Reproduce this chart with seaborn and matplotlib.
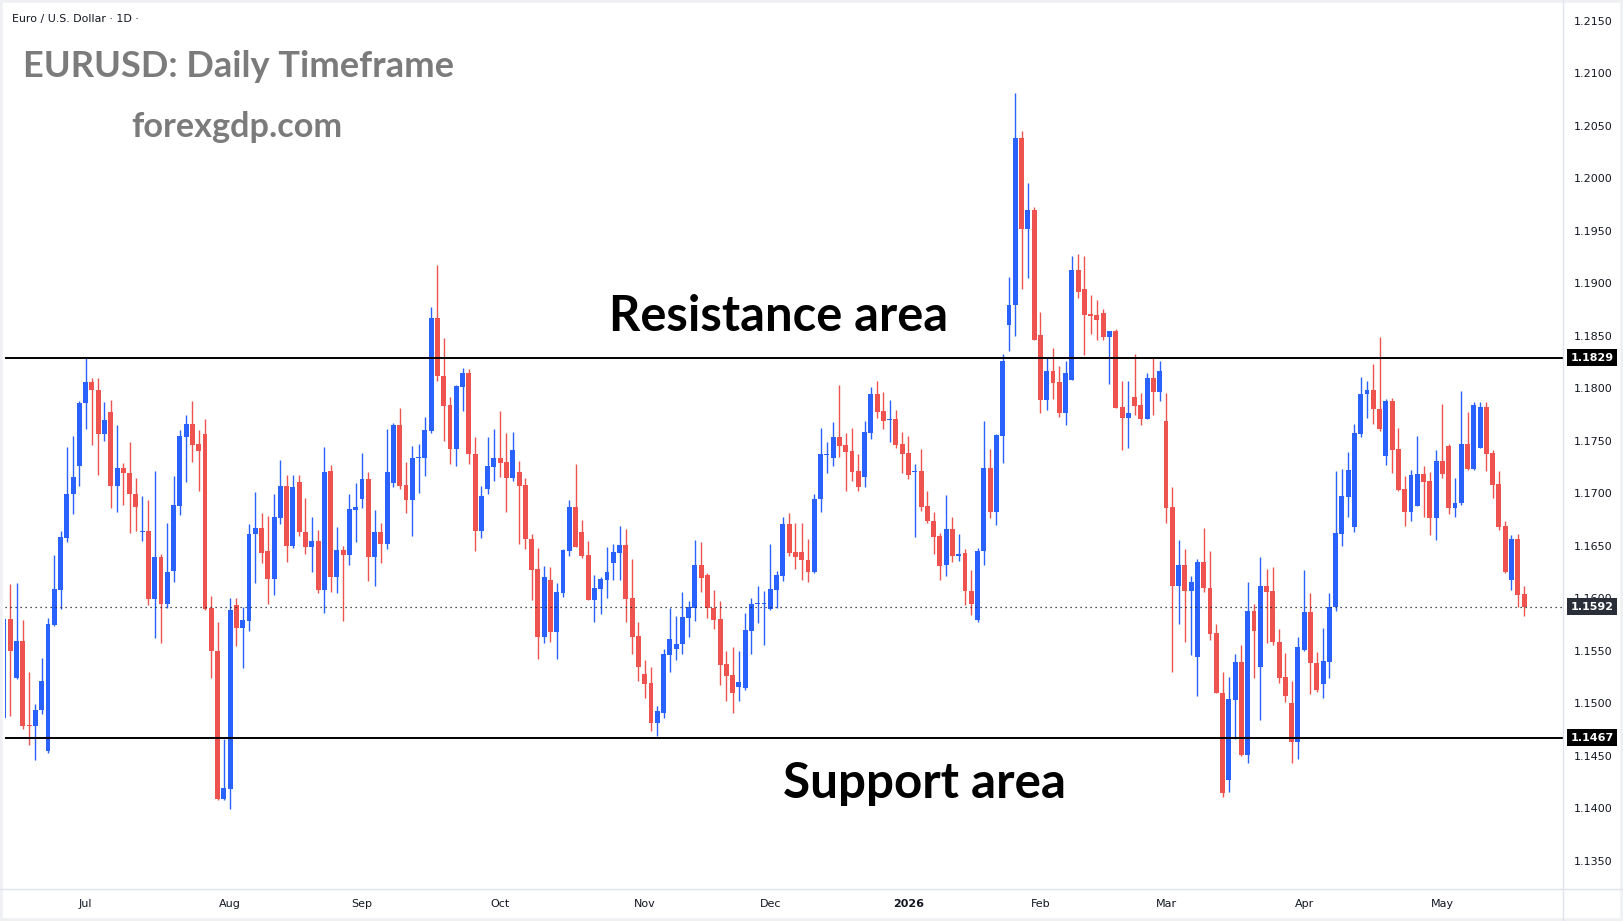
import numpy as np
import pandas as pd
import matplotlib.pyplot as plt
import seaborn as sns
from matplotlib.lines import Line2D
from matplotlib.patches import Rectangle

# ---------------- data (EURUSD daily) ----------------
opens = [
    1.1486, 1.1580, 1.1524, 1.1559, 1.1479, 1.1478, 1.1493, 1.1454, 1.1574, 1.1608,
    1.1657, 1.1699, 1.1726, 1.1786, 1.1806, 1.1798, 1.1756, 1.1777, 1.1707, 1.1724,
    1.1719, 1.1699, 1.1663, 1.1664, 1.1599, 1.1639, 1.1594, 1.1626, 1.1688, 1.1753,
    1.1766, 1.1747, 1.1756, 1.1591, 1.1550, 1.1409, 1.1418, 1.1593, 1.1572, 1.1578,
    1.1661, 1.1667, 1.1645, 1.1618, 1.1676, 1.1707, 1.1650, 1.1711, 1.1663, 1.1649,
    1.1654, 1.1608, 1.1721, 1.1620, 1.1646, 1.1641, 1.1684, 1.1694, 1.1713, 1.1639,
    1.1663, 1.1652, 1.1710, 1.1765, 1.1708, 1.1693, 1.1733, 1.1733, 1.1759, 1.1867,
    1.1812, 1.1784, 1.1742, 1.1801, 1.1814, 1.1737, 1.1664, 1.1704, 1.1725, 1.1733,
    1.1730, 1.1714, 1.1720, 1.1708, 1.1656, 1.1628, 1.1563, 1.1617, 1.1568, 1.1605,
    1.1645, 1.1687, 1.1663, 1.1641, 1.1598, 1.1609, 1.1617, 1.1633, 1.1643, 1.1651,
    1.1600, 1.1564, 1.1528, 1.1519, 1.1481, 1.1491, 1.1546, 1.1552, 1.1556, 1.1581,
    1.1591, 1.1632, 1.1622, 1.1591, 1.1580, 1.1537, 1.1527, 1.1515, 1.1514, 1.1569,
    1.1594, 1.1594, 1.1590, 1.1608, 1.1621, 1.1671, 1.1644, 1.1644, 1.1636, 1.1625,
    1.1694, 1.1736, 1.1733, 1.1753, 1.1746, 1.1740, 1.1721, 1.1715, 1.1757, 1.1794,
    1.1778, 1.1770, 1.1771, 1.1747, 1.1738, 1.1720, 1.1721, 1.1688, 1.1673, 1.1659,
    1.1632, 1.1666, 1.1640, 1.1643, 1.1607, 1.1579, 1.1645, 1.1724, 1.1682, 1.1754,
    1.1860, 1.1879, 1.2038, 1.1952, 1.1970, 1.1851, 1.1789, 1.1816, 1.1806, 1.1776,
    1.1808, 1.1913, 1.1894, 1.1871, 1.1870, 1.1872, 1.1849, 1.1854, 1.1782, 1.1772,
    1.1792, 1.1784, 1.1771, 1.1810, 1.1796, 1.1769, 1.1687, 1.1612, 1.1632, 1.1607,
    1.1544, 1.1634, 1.1610, 1.1567, 1.1510, 1.1427, 1.1503, 1.1539, 1.1451, 1.1588,
    1.1534, 1.1612, 1.1607, 1.1558, 1.1525, 1.1500, 1.1463, 1.1551, 1.1587, 1.1538,
    1.1518, 1.1539, 1.1592, 1.1661, 1.1696, 1.1668, 1.1756, 1.1794, 1.1798, 1.1780,
    1.1735, 1.1788, 1.1742, 1.1704, 1.1682, 1.1688, 1.1718, 1.1712, 1.1676, 1.1731,
    1.1745, 1.1686, 1.1691, 1.1747, 1.1723, 1.1743, 1.1782, 1.1738, 1.1709, 1.1669,
    1.1617, 1.1656, 1.1604,
]
highs = [
    1.1581, 1.1613, 1.1614, 1.1579, 1.1530, 1.1499, 1.1543, 1.1581, 1.1641, 1.1664,
    1.1744, 1.1754, 1.1788, 1.1830, 1.1810, 1.1810, 1.1787, 1.1789, 1.1765, 1.1729,
    1.1749, 1.1714, 1.1697, 1.1693, 1.1721, 1.1642, 1.1672, 1.1716, 1.1760, 1.1774,
    1.1788, 1.1760, 1.1771, 1.1602, 1.1577, 1.1466, 1.1600, 1.1600, 1.1592, 1.1671,
    1.1701, 1.1681, 1.1678, 1.1699, 1.1732, 1.1717, 1.1717, 1.1717, 1.1695, 1.1677,
    1.1665, 1.1744, 1.1727, 1.1668, 1.1650, 1.1699, 1.1710, 1.1738, 1.1720, 1.1684,
    1.1672, 1.1761, 1.1767, 1.1781, 1.1730, 1.1745, 1.1747, 1.1773, 1.1877, 1.1917,
    1.1848, 1.1792, 1.1803, 1.1819, 1.1818, 1.1753, 1.1707, 1.1753, 1.1761, 1.1778,
    1.1757, 1.1758, 1.1731, 1.1714, 1.1661, 1.1648, 1.1631, 1.1630, 1.1614, 1.1647,
    1.1693, 1.1728, 1.1674, 1.1654, 1.1622, 1.1620, 1.1649, 1.1652, 1.1669, 1.1666,
    1.1637, 1.1577, 1.1541, 1.1534, 1.1497, 1.1552, 1.1591, 1.1583, 1.1606, 1.1597,
    1.1655, 1.1653, 1.1624, 1.1608, 1.1597, 1.1550, 1.1553, 1.1550, 1.1586, 1.1600,
    1.1612, 1.1607, 1.1652, 1.1626, 1.1677, 1.1681, 1.1672, 1.1672, 1.1656, 1.1699,
    1.1762, 1.1749, 1.1768, 1.1803, 1.1757, 1.1762, 1.1737, 1.1769, 1.1801, 1.1807,
    1.1796, 1.1789, 1.1779, 1.1758, 1.1754, 1.1728, 1.1742, 1.1702, 1.1682, 1.1662,
    1.1698, 1.1677, 1.1661, 1.1647, 1.1627, 1.1648, 1.1769, 1.1742, 1.1756, 1.1833,
    1.1906, 1.2081, 1.2045, 1.1995, 1.1973, 1.1873, 1.1829, 1.1838, 1.1821, 1.1826,
    1.1926, 1.1928, 1.1926, 1.1889, 1.1884, 1.1875, 1.1854, 1.1856, 1.1807, 1.1807,
    1.1833, 1.1795, 1.1814, 1.1829, 1.1826, 1.1795, 1.1706, 1.1655, 1.1647, 1.1621,
    1.1637, 1.1667, 1.1645, 1.1575, 1.1530, 1.1525, 1.1547, 1.1555, 1.1615, 1.1594,
    1.1639, 1.1628, 1.1630, 1.1571, 1.1548, 1.1521, 1.1563, 1.1627, 1.1605, 1.1549,
    1.1572, 1.1605, 1.1721, 1.1723, 1.1739, 1.1766, 1.1811, 1.1807, 1.1823, 1.1849,
    1.1790, 1.1791, 1.1762, 1.1716, 1.1722, 1.1754, 1.1726, 1.1720, 1.1741, 1.1785,
    1.1747, 1.1714, 1.1797, 1.1777, 1.1787, 1.1787, 1.1787, 1.1741, 1.1721, 1.1673,
    1.1660, 1.1661, 1.1612,
]
lows = [
    1.1486, 1.1488, 1.1523, 1.1475, 1.1460, 1.1446, 1.1490, 1.1452, 1.1573, 1.1590,
    1.1653, 1.1680, 1.1707, 1.1761, 1.1746, 1.1717, 1.1750, 1.1686, 1.1682, 1.1689,
    1.1662, 1.1664, 1.1654, 1.1593, 1.1562, 1.1557, 1.1591, 1.1615, 1.1679, 1.1711,
    1.1730, 1.1702, 1.1589, 1.1524, 1.1408, 1.1408, 1.1399, 1.1554, 1.1533, 1.1569,
    1.1614, 1.1633, 1.1594, 1.1603, 1.1671, 1.1634, 1.1648, 1.1659, 1.1642, 1.1625,
    1.1605, 1.1586, 1.1606, 1.1605, 1.1578, 1.1632, 1.1653, 1.1686, 1.1616, 1.1612,
    1.1633, 1.1647, 1.1706, 1.1704, 1.1681, 1.1659, 1.1700, 1.1716, 1.1757, 1.1807,
    1.1750, 1.1728, 1.1726, 1.1778, 1.1728, 1.1645, 1.1657, 1.1699, 1.1712, 1.1715,
    1.1682, 1.1712, 1.1652, 1.1647, 1.1598, 1.1542, 1.1557, 1.1558, 1.1542, 1.1601,
    1.1640, 1.1649, 1.1638, 1.1598, 1.1577, 1.1585, 1.1600, 1.1617, 1.1617, 1.1577,
    1.1547, 1.1521, 1.1505, 1.1473, 1.1469, 1.1486, 1.1530, 1.1541, 1.1547, 1.1563,
    1.1578, 1.1606, 1.1581, 1.1571, 1.1517, 1.1502, 1.1491, 1.1502, 1.1512, 1.1547,
    1.1576, 1.1555, 1.1589, 1.1591, 1.1616, 1.1640, 1.1628, 1.1617, 1.1615, 1.1624,
    1.1682, 1.1719, 1.1726, 1.1734, 1.1702, 1.1712, 1.1702, 1.1706, 1.1752, 1.1772,
    1.1761, 1.1749, 1.1743, 1.1719, 1.1713, 1.1658, 1.1683, 1.1672, 1.1642, 1.1617,
    1.1621, 1.1634, 1.1635, 1.1593, 1.1584, 1.1577, 1.1632, 1.1676, 1.1670, 1.1729,
    1.1835, 1.1850, 1.1894, 1.1905, 1.1846, 1.1776, 1.1779, 1.1790, 1.1773, 1.1765,
    1.1808, 1.1886, 1.1832, 1.1852, 1.1846, 1.1846, 1.1804, 1.1781, 1.1741, 1.1743,
    1.1774, 1.1765, 1.1771, 1.1774, 1.1788, 1.1672, 1.1530, 1.1575, 1.1558, 1.1546,
    1.1507, 1.1606, 1.1560, 1.1510, 1.1411, 1.1415, 1.1466, 1.1450, 1.1443, 1.1524,
    1.1484, 1.1557, 1.1555, 1.1519, 1.1501, 1.1443, 1.1447, 1.1550, 1.1509, 1.1511,
    1.1505, 1.1524, 1.1588, 1.1650, 1.1677, 1.1663, 1.1753, 1.1772, 1.1766, 1.1759,
    1.1727, 1.1719, 1.1702, 1.1669, 1.1673, 1.1688, 1.1677, 1.1660, 1.1655, 1.1714,
    1.1680, 1.1677, 1.1689, 1.1722, 1.1722, 1.1743, 1.1721, 1.1695, 1.1665, 1.1624,
    1.1608, 1.1592, 1.1583,
]
closes = [
    1.1580, 1.1550, 1.1559, 1.1478, 1.1478, 1.1493, 1.1521, 1.1575, 1.1609, 1.1658,
    1.1699, 1.1715, 1.1786, 1.1806, 1.1798, 1.1756, 1.1770, 1.1707, 1.1724, 1.1719,
    1.1699, 1.1687, 1.1664, 1.1599, 1.1639, 1.1594, 1.1625, 1.1689, 1.1754, 1.1766,
    1.1746, 1.1740, 1.1590, 1.1550, 1.1409, 1.1419, 1.1589, 1.1572, 1.1579, 1.1661,
    1.1667, 1.1643, 1.1618, 1.1677, 1.1707, 1.1650, 1.1706, 1.1663, 1.1649, 1.1654,
    1.1608, 1.1720, 1.1620, 1.1646, 1.1641, 1.1685, 1.1687, 1.1713, 1.1639, 1.1663,
    1.1652, 1.1720, 1.1765, 1.1707, 1.1693, 1.1733, 1.1734, 1.1760, 1.1867, 1.1812,
    1.1783, 1.1742, 1.1802, 1.1814, 1.1737, 1.1664, 1.1697, 1.1726, 1.1733, 1.1729,
    1.1714, 1.1741, 1.1707, 1.1656, 1.1627, 1.1563, 1.1620, 1.1568, 1.1606, 1.1646,
    1.1687, 1.1649, 1.1640, 1.1598, 1.1610, 1.1618, 1.1625, 1.1644, 1.1651, 1.1599,
    1.1563, 1.1534, 1.1518, 1.1481, 1.1492, 1.1547, 1.1561, 1.1556, 1.1582, 1.1592,
    1.1632, 1.1619, 1.1591, 1.1579, 1.1536, 1.1526, 1.1510, 1.1520, 1.1570, 1.1594,
    1.1595, 1.1595, 1.1609, 1.1622, 1.1671, 1.1643, 1.1639, 1.1636, 1.1625, 1.1694,
    1.1737, 1.1737, 1.1753, 1.1745, 1.1739, 1.1720, 1.1706, 1.1758, 1.1794, 1.1777,
    1.1769, 1.1771, 1.1746, 1.1737, 1.1717, 1.1721, 1.1687, 1.1673, 1.1658, 1.1631,
    1.1666, 1.1640, 1.1642, 1.1607, 1.1594, 1.1645, 1.1724, 1.1682, 1.1755, 1.1826,
    1.1879, 1.2038, 1.1952, 1.1970, 1.1846, 1.1789, 1.1816, 1.1805, 1.1776, 1.1814,
    1.1913, 1.1892, 1.1870, 1.1869, 1.1865, 1.1849, 1.1854, 1.1781, 1.1772, 1.1776,
    1.1783, 1.1771, 1.1810, 1.1796, 1.1816, 1.1686, 1.1612, 1.1632, 1.1607, 1.1615,
    1.1634, 1.1610, 1.1566, 1.1510, 1.1414, 1.1504, 1.1539, 1.1451, 1.1588, 1.1569,
    1.1612, 1.1606, 1.1558, 1.1524, 1.1507, 1.1463, 1.1553, 1.1587, 1.1538, 1.1512,
    1.1540, 1.1592, 1.1662, 1.1697, 1.1722, 1.1757, 1.1794, 1.1798, 1.1780, 1.1761,
    1.1788, 1.1741, 1.1703, 1.1682, 1.1717, 1.1718, 1.1711, 1.1676, 1.1731, 1.1718,
    1.1686, 1.1691, 1.1747, 1.1723, 1.1784, 1.1782, 1.1737, 1.1708, 1.1668, 1.1625,
    1.1656, 1.1603, 1.1592,
]

resistance = 1.1829
support = 1.1467
last_price = 1.1592
month_labels = ["Jul", "Aug", "Sep", "Oct", "Nov", "Dec", "2026", "Feb", "Mar", "Apr", "May"]
price_ticks = [1.1350, 1.1400, 1.1450, 1.1500, 1.1550, 1.1600, 1.1650, 1.1700, 1.1750,
               1.1800, 1.1850, 1.1900, 1.1950, 1.2000, 1.2050, 1.2100, 1.2150]

BLUE = "#2962FF"
RED = "#EF5350"
GRAY_TXT = "#7b7b7b"
LINE = "#e0e3eb"

# ---------------- frame ----------------
W, H = 1623, 921
sns.set_theme(style="white")
plt.rcParams["font.family"] = ["DejaVu Sans"]

# trading days (no candle on Christmas and New Year's Day)
dates = pd.bdate_range("2025-06-12", "2026-05-20")
dates = dates[~dates.isin(pd.to_datetime(["2025-12-25", "2026-01-01"]))]
df = pd.DataFrame({"open": opens, "high": highs, "low": lows, "close": closes}, index=dates)
df["x"] = np.arange(len(df))
colors = np.where(df["close"] >= df["open"], BLUE, RED)

fig = plt.figure(figsize=(W / 100, H / 100), dpi=100)
fig.patch.set_facecolor("white")
ax = fig.add_axes([5 / W, 1 - 889 / H, (1563 - 5) / W, (889 - 5) / H])
ax.set_facecolor("white")

# candles
ax.vlines(df["x"], df["low"], df["high"], colors=colors, lw=1.0, zorder=2)
body = np.maximum((df["close"] - df["open"]).abs(), 0.00008)
ax.bar(df["x"], body, bottom=np.minimum(df["open"], df["close"]), width=0.78,
       color=colors, linewidth=0, zorder=3)

# levels
ax.axhline(resistance, color="black", lw=1.4, zorder=4)
ax.axhline(support, color="black", lw=1.4, zorder=4)
ax.axhline(last_price, color="#131722", lw=0.9, ls=(0, (1, 3)), zorder=4)

ax.set_xlim(0.16, 248.2)
ax.set_ylim(1.13229, 1.2165)

# axes / ticks
for s in ax.spines.values():
    s.set_visible(False)
ax.grid(False)
firsts = df.groupby([df.index.year, df.index.month])["x"].first().values[1:]
ax.set_xticks(firsts)
ax.set_xticklabels(month_labels)
for lab in ax.get_xticklabels():
    if lab.get_text() == "2026":
        lab.set_fontweight("bold")
ax.yaxis.tick_right()
ax.set_yticks(price_ticks)
ax.set_yticklabels([f"{v:.4f}" for v in price_ticks])
ax.tick_params(axis="x", length=0, pad=7, labelsize=8, colors="#131722")
ax.tick_params(axis="y", length=0, pad=7.5, labelsize=8, colors="#131722")

# price boxes on the axis
for val, fc in [(resistance, "black"), (support, "black"), (last_price, "#2a2e39")]:
    ax.annotate(f"{val:.4f}", xy=(1, val), xycoords=("axes fraction", "data"),
                xytext=(5.6, 0), textcoords="offset points", ha="left", va="center",
                fontsize=8, fontweight="bold", color="white", annotation_clip=False,
                bbox=dict(boxstyle="square,pad=0.3", fc=fc, ec="none"), zorder=10)

# panel separators and outer border
fig.add_artist(Line2D([1563 / W, 1563 / W], [0, 1], color=LINE, lw=1))
fig.add_artist(Line2D([0, 1], [1 - 889 / H, 1 - 889 / H], color=LINE, lw=1))
fig.add_artist(Rectangle((0, 0), 1, 1, transform=fig.transFigure, fill=False,
                         ec="#eef0f3", lw=4))

# texts
def put(x, y, s, target_w, **kw):
    t = fig.text(x / W, 1 - y / H, s, ha="left", va="baseline", **kw)
    r = fig.canvas.get_renderer()
    w = t.get_window_extent(r).width
    t.set_fontsize(t.get_fontsize() * target_w / w)
    return t

put(12, 22, "Euro / U.S. Dollar · 1D ·", 127, fontsize=8, color="#131722")
put(23, 77, "EURUSD: Daily Timeframe", 431, fontsize=24, fontweight="bold",
    color=GRAY_TXT, family=["Lato", "DejaVu Sans"])
put(131, 137, "forexgdp.com", 211, fontsize=24, fontweight="bold",
    color=GRAY_TXT, family=["Lato", "DejaVu Sans"])
put(609, 331, "Resistance area", 339, fontsize=34, fontweight="bold",
    color="black", family=["Lato", "DejaVu Sans"])
put(783, 798, "Support area", 283, fontsize=34, fontweight="bold",
    color="black", family=["Lato", "DejaVu Sans"])

fig.savefig("out.png", dpi=100, facecolor="white")
